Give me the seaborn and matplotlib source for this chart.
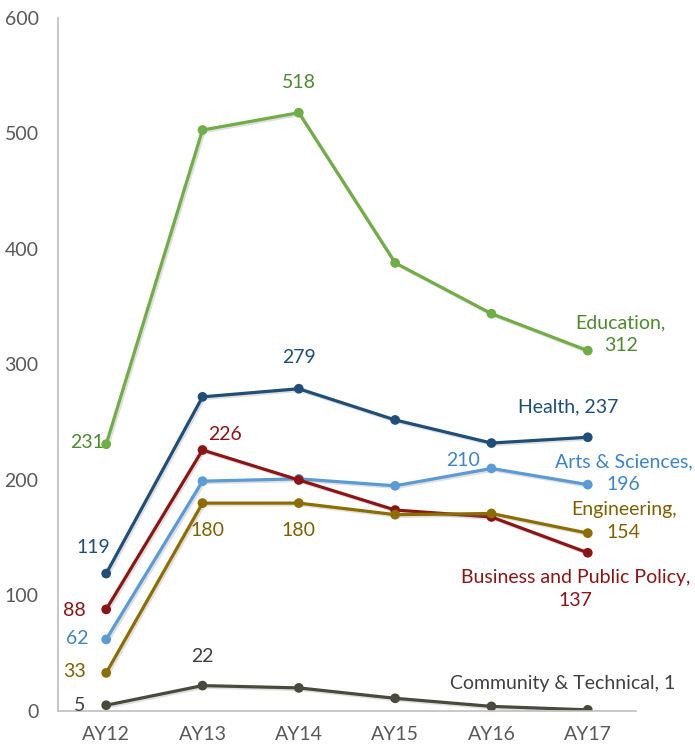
import matplotlib
matplotlib.use("Agg")
import matplotlib.pyplot as plt
import matplotlib.patheffects as pe
import seaborn as sns
import pandas as pd

years = ["AY12", "AY13", "AY14", "AY15", "AY16", "AY17"]
education = [231, 503, 518, 388, 344, 312]
health = [119, 272, 279, 252, 232, 237]
arts_sciences = [62, 199, 201, 195, 210, 196]
business = [88, 226, 200, 174, 168, 137]
engineering = [33, 180, 180, 170, 171, 154]
community = [5, 22, 20, 11, 4, 1]

series_names = ["Education", "Health", "Arts & Sciences",
                "Business and Public Policy", "Engineering", "Community & Technical"]
series_vals = [education, health, arts_sciences, business, engineering, community]
line_colors = ["#70AD47", "#1F4E79", "#5B9BD5", "#8B1515", "#8C6D00", "#4A4A3C"]
text_colors = ["#4E8A2E", "#1F4E79", "#3D85C6", "#8B1515", "#7F6000", "#404040"]

rows = []
for name, vals in zip(series_names, series_vals):
    for y, v in zip(years, vals):
        rows.append({"year": y, "value": v, "series": name})
df = pd.DataFrame(rows)

sns.set_theme(style="white")
plt.rcParams["font.family"] = ["Lato", "DejaVu Sans"]

fig = plt.figure(figsize=(6.95, 7.5), dpi=100)
ax = fig.add_axes([0.0835, 0.052, 0.8315, 0.924])

sns.lineplot(data=df, x="year", y="value", hue="series", hue_order=series_names,
             palette=dict(zip(series_names, line_colors)), marker="o",
             markersize=7, markeredgewidth=0, linewidth=2.3, sort=False,
             legend=False, ax=ax)
for ln in ax.get_lines():
    ln.set_path_effects([pe.SimpleLineShadow(offset=(1.2, -1.2), alpha=0.25, shadow_color="gray"),
                         pe.Normal()])

ax.set_xlim(-0.5, 5.5)
ax.set_ylim(0, 600)
ax.set_yticks([0, 100, 200, 300, 400, 500, 600])
ax.set_xlabel("")
ax.set_ylabel("")
for s in ["top", "right"]:
    ax.spines[s].set_visible(False)
for s in ["left", "bottom"]:
    ax.spines[s].set_color("#BFBFBF")
    ax.spines[s].set_linewidth(1.2)
ax.tick_params(axis="both", length=0, labelsize=14, labelcolor="#595959")
ax.tick_params(axis="y", pad=14)
ax.tick_params(axis="x", pad=11)

# (series index, point index, text, dx px, dy px)
labels = [
    (0, 0, "231", -19, 2), (0, 2, "518", 0, 30), (0, 5, "Education,\n312", 33, 16),
    (1, 0, "119", -13, 26), (1, 2, "279", 0, 31), (1, 5, "Health, 237", -20, 30),
    (2, 0, "62", -29, 1), (2, 4, "210", -28, 8), (2, 5, "Arts & Sciences,\n196", 36, 11),
    (3, 0, "88", -32, -1), (3, 1, "226", 23, 15), (3, 5, "Business and Public Policy,\n137", -12, -36),
    (4, 0, "33", -32, 1), (4, 1, "180", 5, -27), (4, 2, "180", 0, -27), (4, 5, "Engineering,\n154", 36, 12),
    (5, 0, "5", -27, 0), (5, 1, "22", 0, 29), (5, 5, "Community & Technical, 1", -25, 26),
]
for si, pi, txt, dx, dy in labels:
    ax.annotate(txt, (pi, series_vals[si][pi]), xytext=(dx, dy), textcoords="offset pixels",
                ha="center", va="center", fontsize=14, color=text_colors[si],
                linespacing=1.4, annotation_clip=False)

fig.savefig("out.png", dpi=100)
